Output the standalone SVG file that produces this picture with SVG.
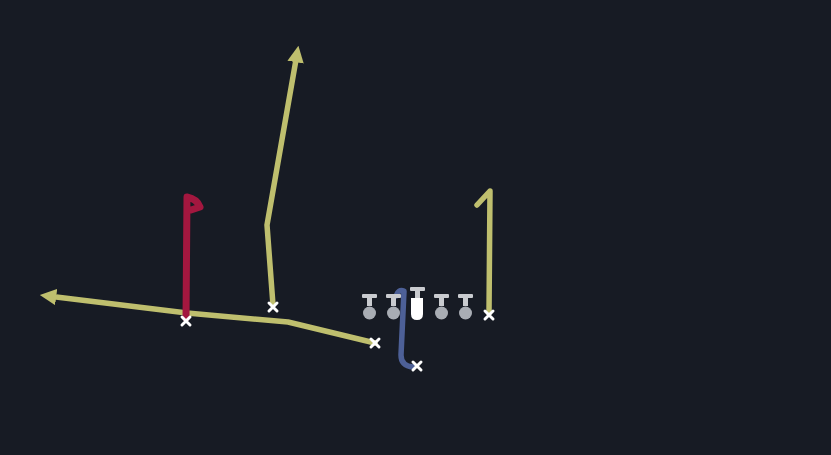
<svg xmlns="http://www.w3.org/2000/svg" width="831" height="455" viewBox="0 0 831 455">
<defs>
<style>
.rt{fill:none;stroke-width:5.5;stroke-linecap:round;stroke-linejoin:round}
.y{stroke:#bfbf6e}
.r{stroke:#a3173f;stroke-width:7}
.b{stroke:#4d6097}
.x{stroke:#ffffff;stroke-width:3;stroke-linecap:round}
.lm{fill:#a9adb4}
.t{fill:#c9cbcf}
</style>
<marker id="ah" viewBox="0 0 10 10" refX="5" refY="5" markerWidth="3" markerHeight="3" orient="auto">
<path d="M0,0 L10,5 L0,10 Z" fill="#bfbf6e"/>
</marker>
</defs>
<rect width="831" height="455" fill="#171b24"/>
<g id="connectors">
<path class="rt y" d="M375,343 L288,322 L187,313 L48,296" marker-end="url(#ah)"/>
<path class="rt y" d="M273,305 L267,225 L297,54" marker-end="url(#ah)"/>
<path class="rt y" d="M489,313 L490,191 L477,205"/>
<path class="rt r" d="M186,318 L187,197 Q197,199 200,207 L191,210"/>
<path class="rt b" d="M396,296 Q398,289 404,291 L401,355 Q401,366 413,367"/>
</g>
<g id="linemen">
<g id="lt"><rect class="t" x="362" y="294" width="15" height="4" rx="1"/><rect class="t" x="367" y="296" width="5" height="10"/><circle class="lm" cx="369.5" cy="313" r="6.5"/></g>
<g id="lg"><rect class="t" x="386" y="294" width="15" height="4" rx="1"/><rect class="t" x="391" y="296" width="5" height="10"/><circle class="lm" cx="393.5" cy="313" r="6.5"/></g>
<g id="c"><rect class="t" x="410" y="287" width="15" height="4" rx="1"/><rect class="t" x="415" y="289" width="5" height="10"/><path d="M411,298 H423 V314 Q423,320 417,320 Q411,320 411,314 Z" fill="#ffffff"/></g>
<g id="rg"><rect class="t" x="434" y="294" width="15" height="4" rx="1"/><rect class="t" x="439" y="296" width="5" height="10"/><circle class="lm" cx="441.5" cy="313" r="6.5"/></g>
<g id="rt"><rect class="t" x="458" y="294" width="15" height="4" rx="1"/><rect class="t" x="463" y="296" width="5" height="10"/><circle class="lm" cx="465.5" cy="313" r="6.5"/></g>
</g>
<g id="players">
<g id="p1"><path class="x" d="M182,317 l8,8 M190,317 l-8,8"/></g>
<g id="p2"><path class="x" d="M269,303 l8,8 M277,303 l-8,8"/></g>
<g id="p3"><path class="x" d="M371,339 l8,8 M379,339 l-8,8"/></g>
<g id="p4"><path class="x" d="M485,311 l8,8 M493,311 l-8,8"/></g>
<g id="p5"><path class="x" d="M413,362 l8,8 M421,362 l-8,8"/></g>
</g>
</svg>
